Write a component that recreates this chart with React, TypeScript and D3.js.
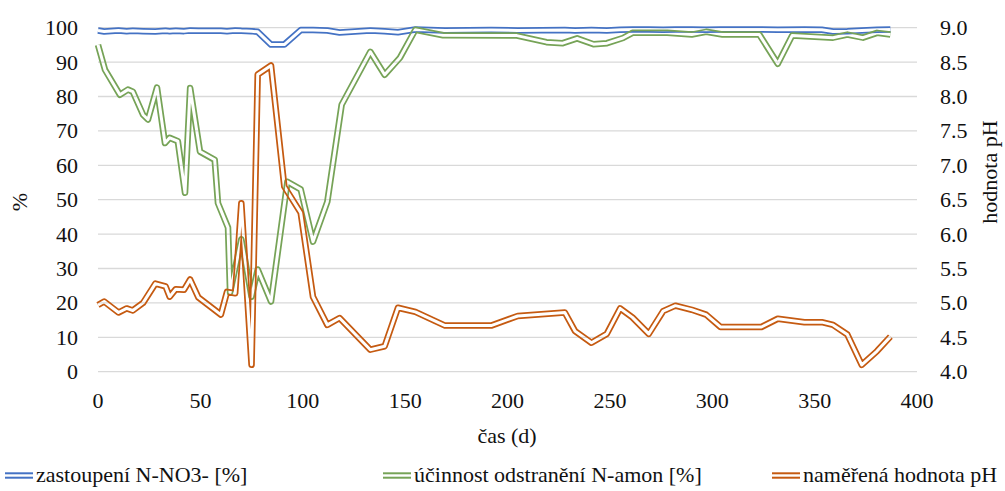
import React from "react";
import * as d3 from "d3";

const xTicks = [0, 50, 100, 150, 200, 250, 300, 350, 400];
const leftTicks = [0, 10, 20, 30, 40, 50, 60, 70, 80, 90, 100];
const rightTicks = [4.0, 4.5, 5.0, 5.5, 6.0, 6.5, 7.0, 7.5, 8.0, 8.5, 9.0];

const seriesNames = [
  "zastoupení N-NO3- [%]",
  "účinnost odstranění N-amon [%]",
  "naměřená hodnota pH",
];

const sampleDays = [
  0, 3, 10, 14, 17, 22, 28, 33, 35, 38, 42, 45, 49, 60, 63, 67, 70, 75, 78, 84.5,
  91, 99, 105, 112, 118, 133, 140, 146.5, 155, 169.5, 192, 205, 228, 233, 241,
  248.5, 255, 261, 269, 276, 282, 290, 297, 304, 324, 332, 345, 353.5, 359, 366,
  373, 380.5, 387,
];

const no3Values = [
  99.2, 98.9, 99.2, 99.0, 99.1, 99.0, 98.9, 99.1, 99.0, 99.1, 99.0, 99.2, 99.1,
  99.1, 99.0, 99.2, 99.1, 99.0, 98.8, 95.1, 95.1, 99.3, 99.3, 99.2, 98.6, 99.2,
  99.0, 98.7, 99.5, 99.2, 99.3, 99.2, 99.3, 99.2, 99.3, 99.2, 99.4, 99.5, 99.5,
  99.4, 99.5, 99.5, 99.4, 99.5, 99.5, 99.4, 99.5, 99.4, 98.9, 99.0, 99.2, 99.4,
  99.5,
];

const phValues = [
  4.97, 5.02, 4.86, 4.92, 4.89, 5.0, 5.28, 5.24, 5.09, 5.2, 5.19, 5.34, 5.08,
  4.83, 5.16, 5.14, 6.45, 4.1, 8.32, 8.45, 6.69, 6.31, 5.09, 4.68, 4.78, 4.32,
  4.37, 4.93, 4.87, 4.67, 4.67, 4.81, 4.86, 4.59, 4.42, 4.55, 4.92, 4.79, 4.55,
  4.88, 4.96, 4.9, 4.83, 4.65, 4.65, 4.77, 4.72, 4.72, 4.68, 4.54, 4.1, 4.3,
  4.51,
];

const amonDays = [
  0, 3.4, 10.7, 14.6, 17, 22, 24.4, 28.8, 32.7, 35, 39, 42.5, 45, 49.8, 57, 58.6,
  63.5, 64.5, 70, 75, 78, 84.5, 92.5, 99, 105, 112, 119, 133, 140, 147.5, 155,
  168.5, 204.6, 219, 227, 234, 242, 248.6, 256.4, 261, 278, 290, 297, 305, 323,
  332, 339, 359, 366, 373.6, 380.5, 387,
];

const amonValues = [
  95, 87.8, 80.5, 82, 81.4, 74.7, 73.3, 82.6, 66.5, 68, 67, 52, 82.5, 64, 61.6,
  49, 41.9, 23, 38.5, 21.8, 29.7, 20.4, 55.2, 53, 37.8, 49.4, 77.6, 93, 86.3,
  91.3, 99.4, 97.8, 97.7, 95.8, 95.5, 96.9, 95.2, 95.5, 97, 98.5, 98.5, 98,
  98.8, 98, 98, 89.5, 97.7, 97.1, 98, 97.1, 98.5, 98,
];

const colors = ["#4472C4", "#76A357", "#C55A11"];

const FONT = "Liberation Serif";
const FS = 22;

type TProps = {
  x?: number;
  y?: number;
  anchor?: "start" | "middle" | "end";
  transform?: string;
  children: React.ReactNode;
};

function T({ x, y, anchor = "start", transform, children }: TProps) {
  return (
    <text
      x={x}
      y={y}
      transform={transform}
      textAnchor={anchor}
      fontFamily={FONT}
      fontSize={FS}
      fill="#111"
      style={{ fontFamily: '"Liberation Serif"', fontSize: FS + "px" }}
    >
      {children}
    </text>
  );
}

export default function App() {
  const W = 1005;
  const H = 491;
  const left = 98;
  const right = 917;
  const top = 27.7;
  const bottom = 371.7;

  const x = d3.scaleLinear().domain([0, 400]).range([left, right]);
  const yL = d3.scaleLinear().domain([0, 100]).range([bottom, top]);
  const yR = d3.scaleLinear().domain([4, 9]).range([bottom, top]);

  const lineL = d3
    .line<[number, number]>()
    .x((d) => x(d[0]))
    .y((d) => yL(d[1]));
  const lineR = d3
    .line<[number, number]>()
    .x((d) => x(d[0]))
    .y((d) => yR(d[1]));

  const paths = [
    lineL(sampleDays.map((d, i) => [d, no3Values[i]] as [number, number])) || "",
    lineL(amonDays.map((d, i) => [d, amonValues[i]] as [number, number])) || "",
    lineR(sampleDays.map((d, i) => [d, phValues[i]] as [number, number])) || "",
  ];

  const outerW = 6.5;
  const gapW = 3;

  const legendItems = [
    { sx: 5, tx: 36 },
    { sx: 383, tx: 414 },
    { sx: 772, tx: 803 },
  ];

  return (
    <svg
      width={W}
      height={H}
      fontFamily={FONT}
      style={{ position: "absolute", left: 0, top: 0 }}
    >
      <style>{`text { font-family: "Liberation Serif" !important; }`}</style>
      <rect x={0} y={0} width={W} height={H} fill="#fff" />
      <defs>
        {paths.map((p, i) => (
          <mask
            key={i}
            id={`dbl-${i}`}
            maskUnits="userSpaceOnUse"
            x={0}
            y={0}
            width={W}
            height={H}
          >
            <rect x={0} y={0} width={W} height={H} fill="#fff" />
            <path
              d={p}
              fill="none"
              stroke="#000"
              strokeWidth={gapW}
              strokeLinejoin="round"
              strokeLinecap="butt"
            />
          </mask>
        ))}
      </defs>

      {leftTicks.map((t) => (
        <line
          key={t}
          x1={left}
          x2={right}
          y1={yL(t)}
          y2={yL(t)}
          stroke="#d9d9d9"
          strokeWidth={1.3}
        />
      ))}

      {paths.map((p, i) => (
        <path
          key={i}
          d={p}
          fill="none"
          stroke={colors[i]}
          strokeWidth={outerW}
          strokeLinejoin="round"
          strokeLinecap="butt"
          mask={`url(#dbl-${i})`}
        />
      ))}

      {leftTicks.map((t) => (
        <T key={"l" + t} x={78} y={yL(t) + 7.5} anchor="end">
          {t}
        </T>
      ))}
      {rightTicks.map((t) => (
        <T key={"r" + t} x={940} y={yR(t) + 7.5}>
          {t.toFixed(1)}
        </T>
      ))}
      {xTicks.map((t) => (
        <T key={"x" + t} x={x(t)} y={408} anchor="middle">
          {t}
        </T>
      ))}

      <T transform="translate(27,202) rotate(-90)" anchor="middle">
        %
      </T>
      <T transform="translate(997,172) rotate(-90)" anchor="middle">
        hodnota pH
      </T>
      <T x={507} y={443} anchor="middle">
        čas (d)
      </T>

      {legendItems.map((it, i) => (
        <T key={"t" + i} x={it.tx} y={482}>
          {seriesNames[i]}
        </T>
      ))}

      {legendItems.map((it, i) => (
        <g key={"s" + i}>
          <line
            x1={it.sx}
            x2={it.sx + 28}
            y1={473.3}
            y2={473.3}
            stroke={colors[i]}
            strokeWidth={2}
          />
          <line
            x1={it.sx}
            x2={it.sx + 28}
            y1={477.7}
            y2={477.7}
            stroke={colors[i]}
            strokeWidth={2}
          />
        </g>
      ))}
    </svg>
  );
}
